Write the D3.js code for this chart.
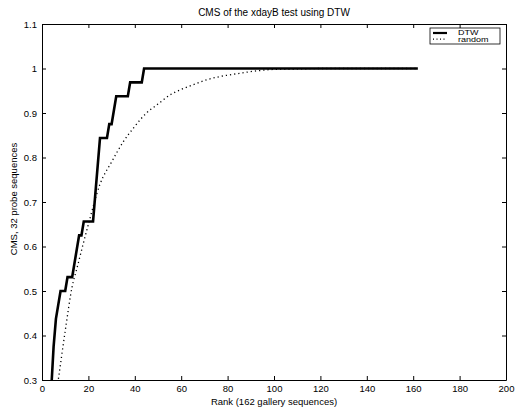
<!DOCTYPE html>
<html>
<head>
<meta charset="utf-8">
<script src="https://cdn.jsdelivr.net/npm/d3@7"></script>
<style>
  html, body { margin: 0; padding: 0; background: #fff; }
  svg text { font-family: "Liberation Sans", Arial, Helvetica, sans-serif; fill: #000; }
</style>
</head>
<body>
<svg id="chart" width="524" height="410"></svg>
<script>
// ---- data ----
const titleText = "CMS of the xdayB test using DTW";
const xLabel = "Rank (162 gallery sequences)";
const yLabel = "CMS, 32 probe sequences";
const probeCount = 32;
// DTW: rank breakpoints and number of correctly identified probes (out of 32)
const dtwRanks = [1, 2, 3, 4, 5, 6, 7, 8, 10, 11, 13, 14, 15, 16, 17, 18, 22, 23, 24, 25, 28, 29, 30, 31, 32, 37, 38, 43, 44, 162];
const dtwHits  = [4, 6, 8, 9, 12, 14, 15, 16, 16, 17, 17, 18, 19, 20, 20, 21, 21, 23, 25, 27, 27, 28, 28, 29, 30, 30, 31, 31, 32, 32];
// random baseline
const randomRanks = [1, 3, 5, 7, 10, 13, 15, 20, 25, 30, 35, 40, 45, 50, 55, 60, 65, 70, 75, 80, 85, 90, 95, 100, 110, 120, 140, 162];
const randomCMS   = [0.05, 0.15, 0.23, 0.30, 0.41, 0.51, 0.55, 0.65, 0.74, 0.79, 0.835, 0.87, 0.90, 0.92, 0.94, 0.953, 0.963, 0.973, 0.98, 0.985, 0.989, 0.993, 0.996, 0.998, 0.999, 1.0, 1.0, 1.0];
const xTicks = [0, 20, 40, 60, 80, 100, 120, 140, 160, 180, 200];
const yTicks = [0.3, 0.4, 0.5, 0.6, 0.7, 0.8, 0.9, 1, 1.1];
const seriesNames = ["DTW", "random"];

// ---- layout ----
const svg = d3.select("#chart");
const L = 42, R = 506, T = 24, B = 380;
const x = d3.scaleLinear().domain([0, 200]).range([L, R]);
const y = d3.scaleLinear().domain([0.3, 1.1]).range([B, T]);

svg.append("rect").attr("width", 524).attr("height", 410).attr("fill", "#fff");

svg.append("defs").append("clipPath").attr("id", "clip")
  .append("rect").attr("x", L).attr("y", T).attr("width", R - L).attr("height", B - T);

const fmtY = d => (d === 1 ? "1" : d3.format(".1f")(d));

// axes (MATLAB style: ticks inside, box on all sides)
const tickLen = 4;
const gxB = svg.append("g").attr("transform", `translate(0,${B})`)
  .call(d3.axisBottom(x).tickValues(xTicks).tickSizeInner(-tickLen).tickSizeOuter(0).tickPadding(5));
const gxT = svg.append("g").attr("transform", `translate(0,${T})`)
  .call(d3.axisTop(x).tickValues(xTicks).tickSizeInner(-tickLen).tickSizeOuter(0).tickFormat(""));
const gyL = svg.append("g").attr("transform", `translate(${L},0)`)
  .call(d3.axisLeft(y).tickValues(yTicks).tickSizeInner(-tickLen).tickSizeOuter(0).tickPadding(5).tickFormat(fmtY));
const gyR = svg.append("g").attr("transform", `translate(${R},0)`)
  .call(d3.axisRight(y).tickValues(yTicks).tickSizeInner(-tickLen).tickSizeOuter(0).tickFormat(""));

[gxB, gxT, gyL, gyR].forEach(g => {
  g.selectAll(".domain").attr("stroke", "#000").attr("stroke-width", 1);
  g.selectAll(".tick line").attr("stroke", "#000");
  g.selectAll("text").attr("font-size", 9.5).attr("font-family", "Liberation Sans, Arial, sans-serif").attr("fill", "#000");
});

// lines
const plot = svg.append("g").attr("clip-path", "url(#clip)");
const dtwData = dtwRanks.map((r, i) => [r, dtwHits[i] / probeCount]);
const rndData = randomRanks.map((r, i) => [r, randomCMS[i]]);

const lineLin = d3.line().x(d => x(d[0])).y(d => y(d[1]));
const lineSmooth = d3.line().x(d => x(d[0])).y(d => y(d[1])).curve(d3.curveMonotoneX);

plot.append("path").datum(rndData).attr("d", lineSmooth)
  .attr("fill", "none").attr("stroke", "#000").attr("stroke-width", 1.3)
  .attr("stroke-dasharray", "1.2,3");
plot.append("path").datum(dtwData).attr("d", lineLin)
  .attr("fill", "none").attr("stroke", "#000").attr("stroke-width", 2.6)
  .attr("stroke-linejoin", "miter");

// title and labels
svg.append("text").attr("x", (L + R) / 2).attr("y", 16).attr("text-anchor", "middle")
  .attr("font-size", 10).text(titleText);
svg.append("text").attr("x", (L + R) / 2).attr("y", 405).attr("text-anchor", "middle")
  .attr("font-size", 9.5).text(xLabel);
svg.append("text").attr("transform", `translate(17,${(T + B) / 2 - 3}) rotate(-90)`)
  .attr("text-anchor", "middle").attr("font-size", 9.5).text(yLabel);

// legend
const lg = svg.append("g");
const lx = 430, ly = 28, lw = 70, lh = 16;
lg.append("rect").attr("x", lx).attr("y", ly).attr("width", lw).attr("height", lh)
  .attr("fill", "#fff").attr("stroke", "#000").attr("stroke-width", 0.8);
seriesNames.forEach((name, i) => {
  const yy = ly + 5 + i * 6.2;
  lg.append("line").attr("x1", lx + 3).attr("x2", lx + 17).attr("y1", yy).attr("y2", yy)
    .attr("stroke", "#000").attr("stroke-width", i === 0 ? 2.2 : 1.2)
    .attr("stroke-dasharray", i === 0 ? null : "1,2.5");
  lg.append("text").attr("transform", `translate(${lx + 28},${yy + 2.4}) scale(1,0.72)`)
    .attr("font-size", 9).text(name);
});
</script>
</body>
</html>
